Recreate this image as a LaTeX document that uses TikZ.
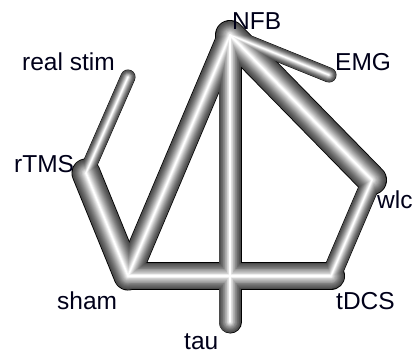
\documentclass[tikz,border=0pt]{standalone}
\usepackage{fontspec}
\setmainfont{Liberation Sans}
\tikzset{
  lbl/.style={anchor=base west, inner sep=0pt, font=\fontsize{24.5}{29}\selectfont, text=black!90!blue},
  tubelayer/.style={line cap=round, line join=round},
}
\begin{document}
\begin{tikzpicture}[x=1pt,y=-1pt]
\useasboundingbox (0,0) rectangle (417,354);
\coordinate (NFB) at (230,35);
\coordinate (EMG) at (329,75);
\coordinate (real) at (128,77);
\coordinate (rTMS) at (86,173);
\coordinate (wlc) at (372,180);
\coordinate (sham) at (128,276);
\coordinate (tDCS) at (331,276);
\coordinate (tau) at (230,322);

\foreach \i in {0,...,16}{%
  \ifnum\i=0 \def\bb{0}\else\pgfmathsetmacro\bb{28+72*(\i/16)^1.4}\fi
  \foreach \a/\b/\w in {NFB/wlc/30, NFB/EMG/15, NFB/sham/25, rTMS/real/15,
                        rTMS/sham/29, wlc/tDCS/20, sham/tDCS/28, NFB/tau/23}{%
    \pgfmathsetmacro\lw{\w*(1-\i/17)}%
    \draw[tubelayer, line width=\lw pt, white!\bb!black] (\a) -- (\b);
  }%
}

\node[lbl] (lNFB) at (232,29.5) {NFB};
\node[lbl] (lEMG) at (335,70) {EMG};
\node[lbl] (lreal) at (22,70) {real stim};
\node[lbl] (lrTMS) at (14,172) {rTMS};
\node[lbl] (lwlc) at (377,208) {wlc};
\node[lbl] (lsham) at (57,309) {sham};
\node[lbl] (ltDCS) at (336,309) {tDCS};
\node[lbl] (ltau) at (184,349) {tau};
\end{tikzpicture}
\end{document}
